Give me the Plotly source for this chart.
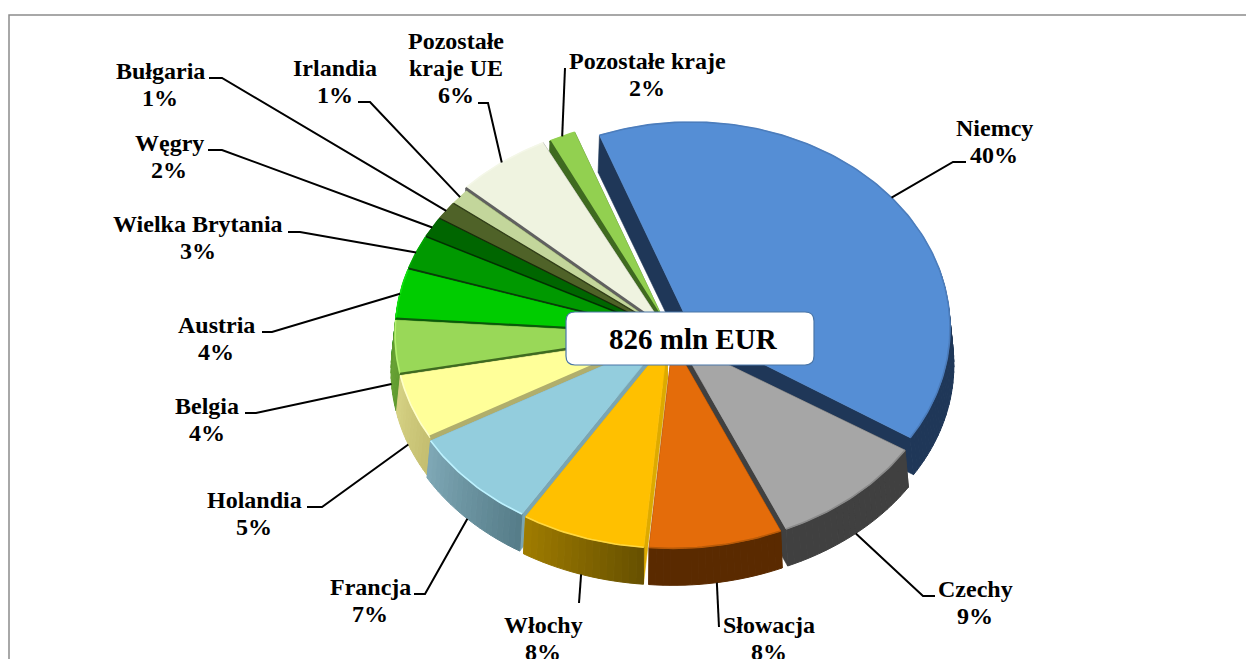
import math
import plotly.graph_objects as go

countries = ["Niemcy", "Czechy", "Słowacja", "Włochy", "Francja", "Holandia", "Belgia", "Austria",
             "Wielka Brytania", "Węgry", "Bułgaria", "Irlandia", "Pozostałe<br>kraje UE", "Pozostałe kraje"]
percents = [40, 9, 8, 8, 7, 5, 4, 4, 3, 2, 1, 1, 6, 2]
# shares as the tilted pie actually shows them on screen
shares = [39.69, 9.47, 8.0, 7.47, 7.92, 5.14, 4.17, 3.86, 2.61, 1.58, 1.39, 1.22, 5.8, 1.68]
total_label = "826 mln EUR"

top_colors = ["#558ED5", "#A6A6A6", "#E46C0A", "#FFC000", "#93CDDD", "#FFFF99", "#99D858", "#00CC00",
              "#009900", "#006600", "#4F6228", "#C3D69B", "#EFF3E0", "#92D050"]
wall_left = ["#1F3758", "#404040", "#5A2A00", "#A07C00", "#7FA8B6", "#D6D284", "#6FA83A", "#009900",
             "#006600", "#004400", "#303C18", "#606060", "#808070", "#3F6A20"]
wall_right = ["#1F3758", "#404040", "#5A2A00", "#665000", "#557C88", "#C4BE70", "#5F9A2E", "#009900",
              "#006600", "#004400", "#303C18", "#606060", "#808070", "#3F6A20"]
band_colors = ["#1F3758", "#404040", "#5A2A00", "#DDAA00", "#7AA5B2", "#B0AE6C", "#3F6A20", "#0A5A0A",
               "#0A3A0A", "#023002", "#1A2A0A", "#303C18", "#606060", "#3F6A20"]
rim_colors = ["#4C7DBC", "#8A8A8A", "#B85A08", "#FFD840", "#BDF2FF", "#FFFFC8", "#B4F070", "#10E010",
              "#00A800", "#006600", "#4F6228", "#C3D69B", "#F4F7E8", "#92D050"]

label_pos = [(994, 141), (975, 602), (769, 638), (543, 638), (370, 600), (254, 513), (207, 419),
             (216, 338), (198, 237), (169, 156), (160, 84), (335, 81), (456, 68), (647, 74)]
leader_tail = [[(953, 162), (966, 162)], [(923, 596), (935, 596)], [(719, 627)], [(579, 603)],
               [(425, 594), (414, 594)], [(322, 507), (307, 507)], [(256, 413), (245, 413)],
               [(272, 332), (262, 332)], [(300, 232), (288, 232)], [(222, 150), (208, 150)],
               [(222, 78), (209, 78)], [(370, 102), (358, 102)], [(488, 103), (478, 103)],
               [(565, 68)]]

CX, CY, RX, RY, DEPTH = 671, 334, 268, 206, 37
BOTTOM_SCALE = 1.015
EXPLODE = [0, 11, 11, 11, 10, 8, 8, 8, 8, 8, 8, 8, 12, 8]
START = 339.3
SEAM_WIDTH = {5: 4.5, 6: 2.2, 7: 1.8, 8: 1.6, 9: 1.4, 10: 1.2, 11: 1.2, 12: 2.2, 13: 2}


def hex_mix(a, b, f):
    ca = [int(a[i:i + 2], 16) for i in (1, 3, 5)]
    cb = [int(b[i:i + 2], 16) for i in (1, 3, 5)]
    return "#%02X%02X%02X" % tuple(round(p + (q - p) * f) for p, q in zip(ca, cb))


def pt(c, t, scale=1.0, drop=0.0):
    r = math.radians(t)
    return c[0] + c[2] * scale * math.sin(r), c[1] - RY * math.cos(r) + drop


def poly(fig, pts, fill, line=None, width=0.6):
    fig.add_trace(go.Scatter(x=[p[0] for p in pts] + [pts[0][0]], y=[p[1] for p in pts] + [pts[0][1]],
                             mode="lines", fill="toself", fillcolor=fill,
                             line=dict(color=line or fill, width=width), hoverinfo="skip", showlegend=False))


def stroke(fig, pts, color, width):
    fig.add_trace(go.Scatter(x=[p[0] for p in pts], y=[p[1] for p in pts], mode="lines",
                             line=dict(color=color, width=width), hoverinfo="skip", showlegend=False))


fig = go.Figure()
total = sum(shares)
spans = []
acc = START
for s in shares:
    spans.append((acc, acc + s / total * 360))
    acc = spans[-1][1]

centers = []
for i, ((a, b), e) in enumerate(zip(spans, EXPLODE)):
    m = math.radians((a + b) / 2)
    if i == 0:
        centers.append((CX + 20, CY - 6, 259))  # the largest slice is pulled out further
    elif i == 13:
        centers.append((CX - 5, CY - 9, 258))  # the small last slice sits higher at the back
    else:
        centers.append((CX + e * math.sin(m), CY - e * math.cos(m) * RY / RX, RX))

order = sorted(range(len(shares)), key=lambda i: -math.cos(math.radians(sum(spans[i]) / 2)))
for i in order:
    a, b = spans[i]
    c = centers[i]
    c_low = (c[0], c[1] + DEPTH)
    for t in (a, b):
        poly(fig, [c[:2], pt(c, t), pt(c, t, BOTTOM_SCALE, DEPTH), c_low], band_colors[i])
    steps = max(3, int((b - a) / 1.5))
    for k in range(steps):
        t0 = a + (b - a) * k / steps
        t1 = a + (b - a) * (k + 1) / steps
        if math.cos(math.radians((t0 + t1) / 2)) > 0.3:
            continue
        x_left_first = math.sin(math.radians(t0)) < math.sin(math.radians(t1))
        f = (k + 0.5) / steps
        col = hex_mix(wall_left[i], wall_right[i], f if x_left_first else 1 - f)
        arc = [t0 + (t1 - t0) * j / 3 for j in range(4)]
        poly(fig, [pt(c, t) for t in arc] + [pt(c, t, BOTTOM_SCALE, DEPTH) for t in reversed(arc)], col, width=1)
    n = max(6, int(b - a))
    arc = [a + (b - a) * j / n for j in range(n + 1)]
    poly(fig, [c[:2]] + [pt(c, t) for t in arc], top_colors[i])
    stroke(fig, [pt(c, t) for t in arc], rim_colors[i], 1.6)

for i, w in SEAM_WIDTH.items():
    stroke(fig, [centers[i][:2], pt(centers[i], spans[i][0])], band_colors[i], w)

for i, name in enumerate(countries):
    tm = sum(spans[i]) / 2
    drop = DEPTH if math.cos(math.radians(tm)) < 0 else 0
    start = pt(centers[i], tm, BOTTOM_SCALE if drop else 1.0, drop)
    stroke(fig, [start] + leader_tail[i], "#000000", 2)
    lines = name.split("<br>") + [f"{percents[i]}%"]
    top = label_pos[i][1] - 13.5 * (len(lines) - 1)
    for j, line in enumerate(lines):
        fig.add_annotation(x=label_pos[i][0], y=top + 27 * j, text=f"<b>{line}</b>", showarrow=False,
                           align="center", xanchor="center", yanchor="middle",
                           font=dict(family="Liberation Serif", size=24, color="#000000"))

fig.add_annotation(x=693, y=339, text=f"<b>{total_label}</b>", showarrow=False,
                   font=dict(family="Liberation Serif", size=29, color="#000000"))

x0, y0, x1, y1, r = 566, 312, 814, 365, 9
fig.add_shape(type="path", layer="above", fillcolor="#FFFFFF", line=dict(color="#4A76A8", width=1.2),
              path=f"M{x0 + r},{y0} L{x1 - r},{y0} Q{x1},{y0} {x1},{y0 + r} L{x1},{y1 - r} Q{x1},{y1} {x1 - r},{y1} "
                   f"L{x0 + r},{y1} Q{x0},{y1} {x0},{y1 - r} L{x0},{y0 + r} Q{x0},{y0} {x0 + r},{y0} Z")
fig.add_shape(type="rect", layer="below", x0=9, y0=15, x1=1300, y1=700, fillcolor="#FFFFFF",
              line=dict(color="#8C8C8C", width=1.5))

fig.update_layout(width=1246, height=659, margin=dict(l=0, r=0, t=0, b=0), paper_bgcolor="#FFFFFF",
                  plot_bgcolor="#FFFFFF", showlegend=False,
                  xaxis=dict(range=[0, 1246], visible=False, fixedrange=True),
                  yaxis=dict(range=[659, 0], visible=False, fixedrange=True))
fig.write_html("out.html", config={"displayModeBar": False},
               post_script="document.body.style.margin='0';document.body.style.overflow='hidden';")
